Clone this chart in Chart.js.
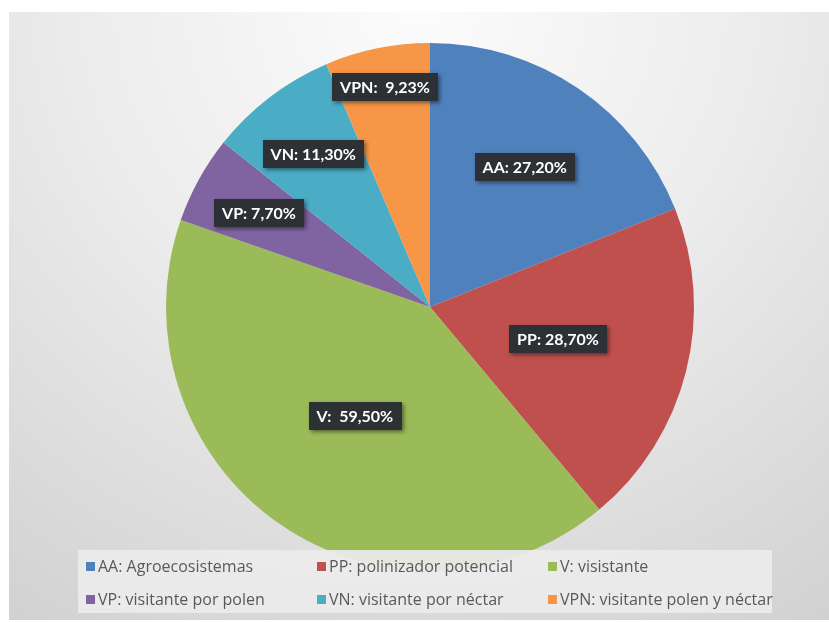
<!DOCTYPE html>
<html>
<head>
<meta charset="utf-8">
<script src="https://cdn.jsdelivr.net/npm/chart.js@4/dist/chart.umd.min.js"></script>
<style>
  html, body { margin: 0; padding: 0; background: #fff; }
  #wrap { width: 829px; height: 622px; position: relative; }
</style>
</head>
<body>
<div id="wrap"><canvas id="cvs"></canvas></div>
<script>
  // data
  var codes = ['AA', 'PP', 'V', 'VP', 'VN', 'VPN']
  var names = ['AA: Agroecosistemas', 'PP: polinizador potencial', 'V: visistante',
    'VP: visitante por polen', 'VN: visitante por néctar', 'VPN: visitante polen y néctar']
  var values = [27.2, 28.7, 59.5, 7.7, 11.3, 9.23]
  var colors = ['#4F81BD', '#C0504D', '#9BBB59', '#8064A2', '#4BACC6', '#F79646']

  var labelText = function (i) {
    var sep = (codes[i] === 'V' || codes[i] === 'VPN') ? ':  ' : ': '
    return codes[i] + sep + values[i].toFixed(2).replace('.', ',') + '%'
  }

  var bgPlugin = {
    id: 'bg',
    beforeDraw: function (chart) {
      var ctx = chart.ctx
      ctx.save()
      ctx.fillStyle = '#ffffff'
      ctx.fillRect(0, 0, chart.width, chart.height)
      var g = ctx.createRadialGradient(420, 0, 0, 420, 0, 760)
      g.addColorStop(0, '#fcfcfc')
      g.addColorStop(0.45, '#ececec')
      g.addColorStop(1, '#d0d0d0')
      ctx.fillStyle = g
      ctx.fillRect(9, 12, chart.width - 9, 608)
      ctx.restore()
    }
  }

  var boxLabels = {
    id: 'boxLabels',
    afterDatasetsDraw: function (chart, args, opts) {
      var ctx = chart.ctx
      var arcs = chart.getDatasetMeta(0).data
      ctx.save()
      ctx.font = opts.font
      ctx.textAlign = 'center'
      ctx.textBaseline = 'middle'
      arcs.forEach(function (arc, i) {
        var p = arc.getProps(['x', 'y', 'startAngle', 'endAngle', 'outerRadius'], true)
        var mid = (p.startAngle + p.endAngle) / 2
        var r = p.outerRadius * opts.radius[i]
        var cx = p.x + Math.cos(mid) * r
        var cy = p.y + Math.sin(mid) * r
        var txt = labelText(i)
        var w = ctx.measureText(txt).width + 16
        var h = 28
        ctx.shadowColor = 'rgba(0,0,0,0.45)'
        ctx.shadowBlur = 4
        ctx.shadowOffsetX = 2
        ctx.shadowOffsetY = 2
        ctx.fillStyle = '#2d3035'
        ctx.fillRect(Math.round(cx - w / 2), Math.round(cy - h / 2), Math.round(w), h)
        ctx.shadowColor = 'transparent'
        ctx.fillStyle = '#ffffff'
        ctx.fillText(txt, cx, cy + 1)
      })
      ctx.restore()
    }
  }

  var boxLegend = {
    id: 'boxLegend',
    afterDraw: function (chart, args, opts) {
      var ctx = chart.ctx
      var labels = chart.data.labels
      var bg = chart.data.datasets[0].backgroundColor
      ctx.save()
      ctx.fillStyle = 'rgba(236,236,236,0.92)'
      ctx.fillRect(78, 550, 694, 63)
      ctx.font = opts.font
      ctx.textBaseline = 'middle'
      ctx.textAlign = 'left'
      labels.forEach(function (lab, i) {
        var col = i % 3, row = Math.floor(i / 3)
        var x = opts.cols[col], y = opts.rows[row]
        ctx.fillStyle = bg[i]
        ctx.fillRect(x, y - 5, 9, 9)
        ctx.fillStyle = '#595959'
        ctx.fillText(lab, x + 12, y)
      })
      ctx.restore()
    }
  }

  new Chart(document.getElementById('cvs'), {
    type: 'pie',
    data: {
      labels: names,
      datasets: [{
        data: values,
        backgroundColor: colors,
        borderWidth: 0
      }]
    },
    options: {
      responsive: true,
      maintainAspectRatio: false,
      animation: false,
      layout: { padding: { top: 43, bottom: 51, left: 166, right: 135 } },
      plugins: {
        legend: { display: false },
        tooltip: { enabled: false },
        boxLabels: {
          font: 'bold 16px Lato, "Open Sans", sans-serif',
          radius: [0.64, 0.5, 0.5, 0.74, 0.73, 0.85]
        },
        boxLegend: {
          font: '16px "Open Sans", sans-serif',
          cols: [86, 317, 548],
          rows: [567, 600]
        }
      }
    },
    plugins: [bgPlugin, boxLabels, boxLegend]
  })
</script>
</body>
</html>
